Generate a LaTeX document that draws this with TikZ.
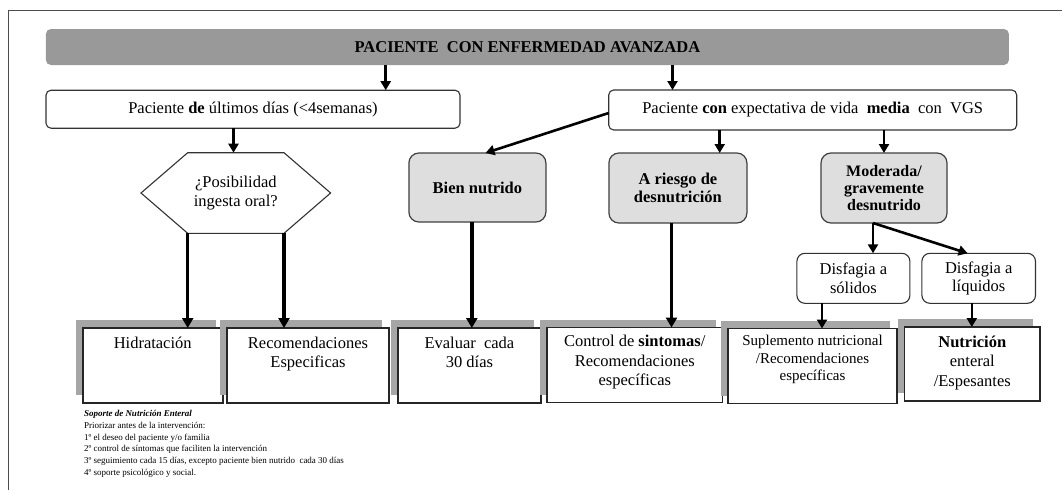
\documentclass[tikz,border=0pt]{standalone}
\usepackage{fontspec}
\setmainfont{Liberation Serif}
\usetikzlibrary{arrows.meta,shadows,calc}
\begin{document}
\begin{tikzpicture}[x=1pt,y=-1pt,
  every node/.style={inner sep=0pt, outer sep=0pt},
  wbox/.style={draw=black!80, line width=1.1pt, rounded corners=5pt, fill=white, font=\fontsize{16.5}{19}\selectfont},
  gbox/.style={draw=black!75, line width=1.2pt, rounded corners=10pt, fill=black!13, align=center, font=\bfseries\fontsize{16.5}{18.5}\selectfont},
  dbox/.style={draw=black!80, line width=1.1pt, rounded corners=8pt, fill=white, align=center, font=\fontsize{16.5}{18.5}\selectfont},
  fbox/.style={draw=black!85, line width=1.6pt, fill=white, general shadow={fill=black!35, shadow xshift=-7pt, shadow yshift=8pt}},
  ftext/.style={anchor=north, align=center, font=\fontsize{16.5}{19.5}\selectfont},
  arr/.style={line width=2.6pt, -{Triangle[width=10pt,length=9pt]}},
  tarr/.style={line width=3.4pt, -{Triangle[width=11pt,length=10pt]}},
]
\useasboundingbox (0,0) rectangle (1062,490);
\fill[white] (0,0) rectangle (1062,490);
% page frame
\draw[black!70, line width=1.2pt] (8.6,490) -- (8.6,10.3) -- (1062,10.3);

% banner
\node[fill=black!40, rounded corners=5pt, minimum width=963pt, minimum height=36pt,
      font=\bfseries\fontsize{16.5}{19}\selectfont] (banner) at (527.4,47) {PACIENTE\ \ CON ENFERMEDAD AVANZADA};

% level 2
\node[wbox, minimum width=414pt, minimum height=38pt] (lbox) at (253,109.2) {Paciente \textbf{de} últimos días (<4semanas)};
\node[wbox, minimum width=408pt, minimum height=40pt] (rbox) at (812.7,110) {Paciente \textbf{con} expectativa de vida\ \ \textbf{media}\ \ con\ \ VGS};

% hexagon
\node[minimum width=189.6pt, minimum height=80.6pt, align=center, font=\fontsize{16.5}{18.5}\selectfont] (hex) at (235.8,193) {¿Posibilidad\\ingesta oral?};
\coordinate (hextl) at ($(hex.north west)+(46.7,0)$);
\coordinate (hextr) at ($(hex.north east)+(-46.6,0)$);
\coordinate (hexbl) at ($(hex.south west)+(46.7,0)$);
\coordinate (hexbr) at ($(hex.south east)+(-46.6,0)$);
\draw[black!80, line width=1.1pt] (hex.west) -- (hextl) -- (hextr) -- (hex.east) -- (hexbr) -- (hexbl) -- cycle;

% grey boxes
\node[gbox, minimum width=137pt, minimum height=69pt] (bien) at (477.4,187.5) {Bien nutrido};
\node[gbox, minimum width=138pt, minimum height=70pt] (riesgo) at (677.9,188) {A riesgo de\\desnutrición};
\node[gbox, minimum width=126pt, minimum height=70pt, font=\bfseries\fontsize{16}{17.3}\selectfont] (mod) at (884,188) {Moderada/\\gravemente\\desnutrido};

% dysphagia boxes
\node[dbox, minimum width=113pt, minimum height=50pt] (sol) at (853.4,278.3) {Disfagia a\\sólidos};
\node[dbox, minimum width=113.6pt, minimum height=50pt] (liq) at (978.7,278.3) {Disfagia a\\líquidos};

% bottom boxes
\node[fbox, minimum width=140pt, minimum height=75pt] (hid) at (152.7,365.5) {};
\node[fbox, minimum width=162pt, minimum height=75pt] (rec) at (308,365.5) {};
\node[fbox, minimum width=143pt, minimum height=75pt] (eva) at (469.4,365.5) {};
\node[fbox, minimum width=175.5pt, minimum height=75pt] (con) at (634.8,365) {};
\node[fbox, minimum width=169pt, minimum height=75pt] (sup) at (812.5,366) {};
\node[fbox, minimum width=135.4pt, minimum height=74pt] (nut) at (972.3,364) {};

\node[ftext] (hidt) at ($(hid.north)+(0,9)$) {Hidratación};
\node[ftext] (rect) at ($(rec.north)+(0,9)$) {Recomendaciones\\Especificas};
\node[ftext] (evat) at ($(eva.north)+(0,9)$) {Evaluar\ \ cada\\30 días};
\node[ftext] (cont) at ($(con.north)+(0,8)$) {Control de \textbf{sintomas}/\\Recomendaciones\\específicas};
\node[ftext, font=\fontsize{15}{17.5}\selectfont] (supt) at ($(sup.north)+(0,7)$) {Suplemento nutricional\\/Recomendaciones\\específicas};
\node[ftext] (nutt) at ($(nut.north)+(0,9)$) {\textbf{Nutrición}\\enteral\\/Espesantes};

% footnote
\node[anchor=north west, align=left, font=\fontsize{9}{11.7}\selectfont] (note) at (84,410.5)
 {\textbf{\textit{Soporte de Nutrición Enteral}}\\
  Priorizar antes de la intervención:\\
  1º el deseo del paciente y/o familia\\
  2º control de síntomas que faciliten la intervención\\
  3º seguimiento cada 15 días, excepto paciente bien nutrido\ \ cada 30 días\\
  4º soporte psicológico y social.};

% arrows
\coordinate (xa1) at (385.7,0);
\coordinate (xa2) at (672.5,0);
\coordinate (xa3) at (233.5,0);
\coordinate (xa4) at (485.5,0);
\coordinate (xa5) at (719.7,0);
\coordinate (xa6) at (884,0);
\coordinate (xa9) at (471.8,0);
\coordinate (xa10) at (671.5,0);
\coordinate (xa11) at (873,0);
\coordinate (xa12) at (967.6,0);
\coordinate (xa13) at (822,0);
\coordinate (xa14) at (971.8,0);

\draw[arr] (banner.south -| xa1) -- (lbox.north -| xa1);
\draw[arr] (banner.south -| xa2) -- (rbox.north -| xa2);
\draw[arr] (lbox.south -| xa3) -- (hex.north -| xa3);
\draw[arr] ($(rbox.south west)+(0,-17)$) -- (bien.north -| xa4);
\draw[arr] (rbox.south -| xa5) -- (riesgo.north -| xa5);
\draw[arr] (rbox.south -| xa6) -- (mod.north -| xa6);
\draw[tarr] (hexbl) -- (hexbl |- hid.north);
\draw[tarr] (hexbr) -- (hexbr |- rec.north);
\draw[tarr] (bien.south -| xa9) -- (eva.north -| xa9);
\draw[tarr] (riesgo.south -| xa10) -- (con.north -| xa10);
\draw[arr] (mod.south -| xa11) -- (sol.north -| xa11);
\draw[arr] (mod.south -| xa11) -- (liq.north -| xa12);
\draw[arr] (sol.south -| xa13) -- (sup.north -| xa13);
\draw[arr] (liq.south -| xa14) -- (nut.north -| xa14);
\end{tikzpicture}
\end{document}
